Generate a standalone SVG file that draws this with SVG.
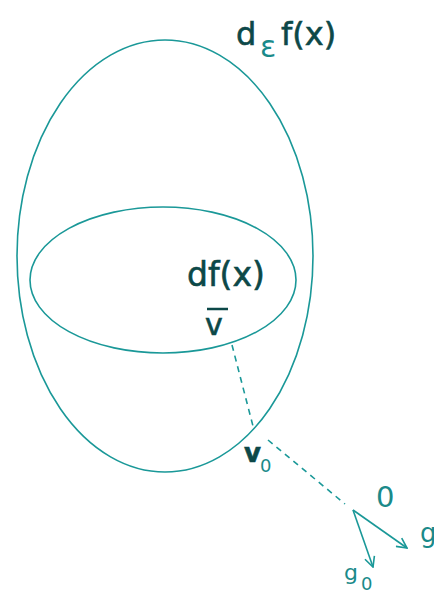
<svg xmlns="http://www.w3.org/2000/svg" width="434" height="597" viewBox="0 0 434 597">
<defs>
<style>
.ln{fill:none;stroke:#1a9898;stroke-width:1.6}
.ds{fill:none;stroke:#1a9898;stroke-width:1.6;stroke-dasharray:6,5}
.t{font-family:"DejaVu Sans",sans-serif;fill:#0c4848;stroke:#0c4848;stroke-width:0.6}
.s{font-family:"DejaVu Sans",sans-serif;fill:#1a8a8a}
</style>
<marker id="ah" viewBox="0 0 12 12" refX="11" refY="6" markerWidth="12" markerHeight="12" markerUnits="userSpaceOnUse" orient="auto">
<path d="M1,1 L11,6 L1,11" fill="none" stroke="#1a9898" stroke-width="1.6"/>
</marker>
</defs>
<rect width="434" height="597" fill="#ffffff"/>
<g id="outer">
<ellipse class="ln" cx="165" cy="256" rx="148" ry="216"/>
<text class="t" x="236" y="45" font-size="32">d</text>
<text class="s" x="260" y="57" font-size="30">ε</text>
<text class="t" x="281" y="45" font-size="32">f(x)</text>
</g>
<g id="inner">
<ellipse class="ln" cx="163" cy="280" rx="133" ry="73"/>
<text class="t" x="187" y="286" font-size="33">df(x)</text>
</g>
<g id="vbar">
<line x1="207" y1="309" x2="228" y2="309" stroke="#0c4848" stroke-width="2.5"/>
<text class="t" x="205" y="335" font-size="30">v</text>
</g>
<g id="v0">
<text class="t" x="244" y="462" font-size="26" font-weight="bold" fill="#0a3030">v</text>
<text class="s" x="260" y="472" font-size="18">0</text>
</g>
<g id="origin">
<text class="s" x="376" y="507" font-size="29">0</text>
</g>
<g id="g">
<text class="s" x="420" y="542" font-size="26">g</text>
</g>
<g id="g0">
<text class="s" x="344" y="580" font-size="22">g</text>
<text class="s" x="361" y="590" font-size="18">0</text>
</g>
<g id="connectors">
<line class="ds" x1="232" y1="345" x2="254" y2="430"/>
<line class="ds" x1="268" y1="440" x2="345" y2="504"/>
<line class="ln" x1="353" y1="510" x2="407" y2="548" marker-end="url(#ah)"/>
<line class="ln" x1="353" y1="510" x2="373" y2="567" marker-end="url(#ah)"/>
</g>
</svg>
